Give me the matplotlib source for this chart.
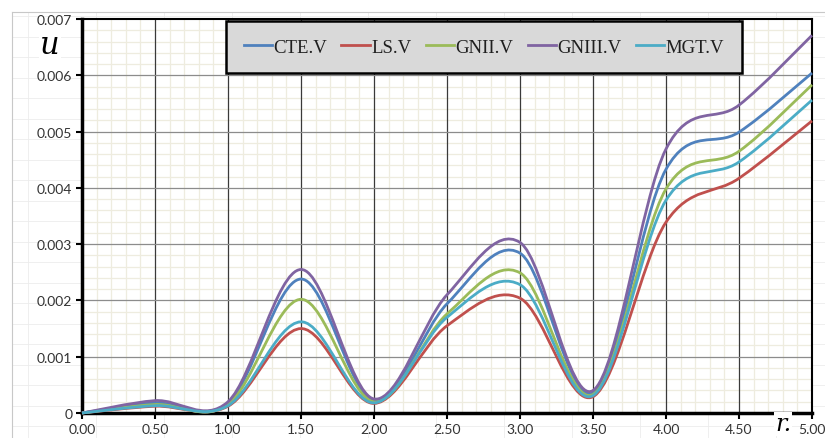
import numpy as np
import matplotlib
matplotlib.use('Agg')
import matplotlib.pyplot as plt
from matplotlib.path import Path
from matplotlib.patches import PathPatch
from matplotlib.ticker import MultipleLocator, FixedLocator

# data
r = [0.0, 0.5, 1.0, 1.5, 2.0, 2.5, 3.0, 3.5, 4.0, 4.5, 5.0]
cte_v = [0, 0.18e-3, 0.17e-3, 2.38e-3, 0.22e-3, 1.94e-3, 2.84e-3, 0.36e-3, 4.33e-3, 4.99e-3, 6.04e-3]
ls_v = [0, 0.12e-3, 0.12e-3, 1.50e-3, 0.17e-3, 1.55e-3, 2.04e-3, 0.29e-3, 3.39e-3, 4.17e-3, 5.19e-3]
gnii_v = [0, 0.15e-3, 0.15e-3, 2.02e-3, 0.20e-3, 1.76e-3, 2.49e-3, 0.33e-3, 3.98e-3, 4.65e-3, 5.83e-3]
gniii_v = [0, 0.22e-3, 0.20e-3, 2.55e-3, 0.25e-3, 2.10e-3, 3.03e-3, 0.40e-3, 4.69e-3, 5.47e-3, 6.71e-3]
mgt_v = [0, 0.13e-3, 0.13e-3, 1.62e-3, 0.18e-3, 1.70e-3, 2.28e-3, 0.31e-3, 3.78e-3, 4.46e-3, 5.56e-3]

names = ['CTE.V', 'LS.V', 'GNII.V', 'GNIII.V', 'MGT.V']
series = [cte_v, ls_v, gnii_v, gniii_v, mgt_v]
colors = ['#4F81BD', '#C0504D', '#9BBB59', '#8064A2', '#4BACC6']

y_ticks = [0, 0.001, 0.002, 0.003, 0.004, 0.005, 0.006, 0.007]
y_labels = ['0', '0.001', '0.002', '0.003', '0.004', '0.005', '0.006', '0.007']
x_ticks = [0, 0.5, 1.0, 1.5, 2.0, 2.5, 3.0, 3.5, 4.0, 4.5, 5.0]
x_labels = ['%.2f' % v for v in x_ticks]


def smooth_path(xs, ys):
	# Excel style smoothed line: cubic bezier through the points
	pts = np.column_stack([xs, ys])
	pad = np.vstack([pts[0], pts, pts[-1]])
	verts = [pts[0]]
	codes = [Path.MOVETO]
	for i in range(len(pts) - 1):
		c1 = pts[i] + (pad[i + 2] - pad[i]) / 6
		c2 = pts[i + 1] - (pad[i + 3] - pad[i + 1]) / 6
		verts += [c1, c2, pts[i + 1]]
		codes += [Path.CURVE4] * 3
	return Path(verts, codes)


fig = plt.figure(figsize=(8.25, 4.39), dpi=100, facecolor='white')

# faint spreadsheet cells behind the chart
for yy in np.arange(17, 439, 20.5):
	fig.add_artist(plt.Line2D([12 / 825, 1], [1 - yy / 439] * 2, color='#ececec', lw=0.6, zorder=-5))
for xx in np.arange(28, 825, 68):
	fig.add_artist(plt.Line2D([xx / 825] * 2, [0, 1 - 13 / 439], color='#ececec', lw=0.6, zorder=-5))
fig.add_artist(plt.Line2D([12 / 825, 1], [1 - 13 / 439] * 2, color='#c8c8c8', lw=0.8, zorder=-4))
fig.add_artist(plt.Line2D([12 / 825] * 2, [0, 1 - 13 / 439], color='#c8c8c8', lw=0.8, zorder=-4))

ax = fig.add_axes([82 / 825, 25 / 439, 730 / 825, 394 / 439])
ax.set_facecolor('white')
ax.set_xlim(0, 5)
ax.set_ylim(0, 0.007)

ax.xaxis.set_major_locator(FixedLocator(x_ticks))
ax.yaxis.set_major_locator(FixedLocator(y_ticks))
ax.xaxis.set_minor_locator(MultipleLocator(0.1))
ax.yaxis.set_minor_locator(MultipleLocator(0.0002))
ax.set_xticklabels(x_labels)
ax.set_yticklabels(y_labels)

# minor grid below, major grid lines drawn on top of it
ax.grid(which='minor', color='#eeecdf', lw=0.9, zorder=0)
ax.set_axisbelow(True)
for xv in x_ticks[1:-1]:
	ax.axvline(xv, color='#3a3a3a', lw=0.9, zorder=1)
for yv in y_ticks[1:-1]:
	ax.axhline(yv, color='#8c8c8c', lw=0.9, zorder=1)

ax.tick_params(which='major', direction='out', length=4, width=1.5, color='black',
			   labelsize=10, labelcolor='#333333', pad=3)
ax.tick_params(which='minor', length=0)
for lab in ax.get_xticklabels() + ax.get_yticklabels():
	lab.set_family('Lato')

for side in ['left', 'bottom']:
	ax.spines[side].set_linewidth(2.5)
for side in ['top', 'right']:
	ax.spines[side].set_linewidth(1.5)

for ys, c, name in zip(series, colors, names):
	patch = PathPatch(smooth_path(r, ys), fill=False, edgecolor=c, lw=2, zorder=3, clip_on=False)
	ax.add_patch(patch)
	ax.plot([], [], color=c, lw=2, label=name)

leg = ax.legend(loc='center', bbox_to_anchor=(402 / 730, 366 / 394), ncol=5, frameon=True,
				fancybox=False, borderaxespad=0, borderpad=0.95, handlelength=1.5,
				handletextpad=0.1, columnspacing=0.75,
				prop={'family': 'Liberation Serif', 'size': 13.5}, labelcolor='#1f1f1f')
leg.get_frame().set_facecolor('#d9d9d9')
leg.get_frame().set_edgecolor('black')
leg.get_frame().set_linewidth(1.8)
leg.get_frame().set_alpha(1)
leg.set_zorder(5)

fig.text(50 / 825, 1 - 46 / 439, 'u', ha='center', va='center', fontsize=22, style='italic',
		 family='DejaVu Serif', bbox=dict(facecolor='white', edgecolor='none', pad=1))
fig.text(783 / 825, 1 - 425 / 439, 'r.', ha='center', va='center', fontsize=17, style='italic',
		 family='DejaVu Serif', bbox=dict(facecolor='white', edgecolor='none', pad=0.3), zorder=6)

fig.savefig('out.png', dpi=100, facecolor='white')
